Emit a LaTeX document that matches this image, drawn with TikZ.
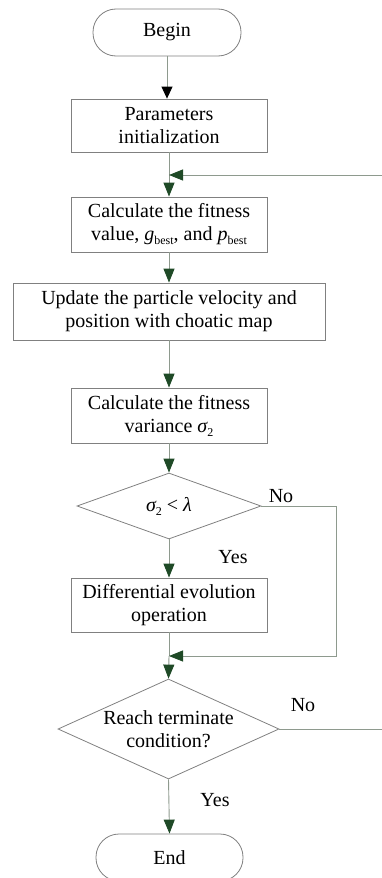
\documentclass[tikz,border=0pt]{standalone}
\usepackage{fontspec}
\setmainfont{Liberation Serif}
\usetikzlibrary{arrows.meta,shapes.geometric}
\definecolor{linegray}{HTML}{8E9A8E}
\definecolor{boxgray}{HTML}{808080}
\definecolor{tipgreen}{HTML}{1F4A27}
\newcommand\mysub[1]{\raisebox{-4pt}{\fontsize{12}{12}\selectfont #1}}
\begin{document}
\begin{tikzpicture}[x=1pt,y=-1pt,
  every node/.style={font=\fontsize{20}{23}\selectfont},
  procbox/.style={draw=boxgray, line width=0.8pt, rectangle, align=center, inner sep=0pt},
  termbox/.style={draw=boxgray, line width=0.8pt, rectangle, rounded corners=23pt, inner sep=0pt, minimum width=148pt, minimum height=47pt},
  decbox/.style={draw=boxgray, line width=0.8pt, diamond, inner sep=0pt},
  conn/.style={draw=linegray, line width=0.9pt},
  flow/.style={conn, -{Triangle[length=14pt,width=11pt,fill=tipgreen,color=tipgreen]}},
  flowblack/.style={conn, -{Triangle[length=12pt,width=11pt,fill=black,color=black]}},
  lbl/.style={inner sep=0pt}
]
\useasboundingbox (0,0) rectangle (382,878);
\node[termbox] (begin) at (167,32.5) {Begin};
\node[procbox, minimum width=196pt, minimum height=53pt] (params) at (169,125.5) {Parameters\\initialization};
\node[procbox, minimum width=196pt, minimum height=55pt] (calc) at (169,224.5) {Calculate the fitness\\value, \textit{g}\mysub{best}, and \textit{p}\mysub{best}};
\node[procbox, minimum width=312pt, minimum height=57pt] (update) at (169,311.5) {Update the particle velocity and\\position with choatic map};
\node[procbox, minimum width=196pt, minimum height=55pt] (var) at (169,415.5) {Calculate the fitness\\variance {\itshape σ}\mysub{2}};
\node[decbox, minimum width=184pt, minimum height=66pt,
  label={center:{\itshape σ}\mysub{2} < {\itshape λ}}] (d1) at (169,506) {};
\node[procbox, minimum width=196pt, minimum height=54pt] (diff) at (169,605) {Differential evolution\\operation};
\node[decbox, minimum width=221pt, minimum height=100pt,
  label={[align=center]center:Reach terminate\\condition?}] (d2) at (168.5,729) {};
\node[termbox, minimum width=147pt] (end) at (169.5,857.5) {End};

\coordinate (fbR) at (382,175);
\coordinate (fbT) at (169,175);
\coordinate (n1a) at (336,506);
\coordinate (n1b) at (336,656);
\coordinate (mrg) at (169,656);
\coordinate (n2R) at (382,729);

\node[lbl] (no1) at (281,496) {No};
\node[lbl] (yes1) at (233,557) {Yes};
\node[lbl] (no2) at (303,705) {No};
\node[lbl] (yes2) at (215,800) {Yes};

\draw[flowblack] (begin.south) -- (begin.south |- params.north);
\draw[flow] (params.south) -- (calc.north);
\draw[flow] (fbR) -- (fbT);
\draw[flow] (calc.south) -- (update.north);
\draw[flow] (update.south) -- (var.north);
\draw[flow] (var.south) -- (d1.north);
\draw[flow] (d1.south) -- (diff.north);
\draw[conn] (diff.south) -- (mrg);
\draw[flow] (mrg) -- (d2.north);
\draw[flow] (d1.east) -- (n1a) -- (n1b) -- (mrg);
\draw[conn] (d2.east) -- (n2R);
\draw[flow] (d2.south) -- (end.north);
\end{tikzpicture}
\end{document}
